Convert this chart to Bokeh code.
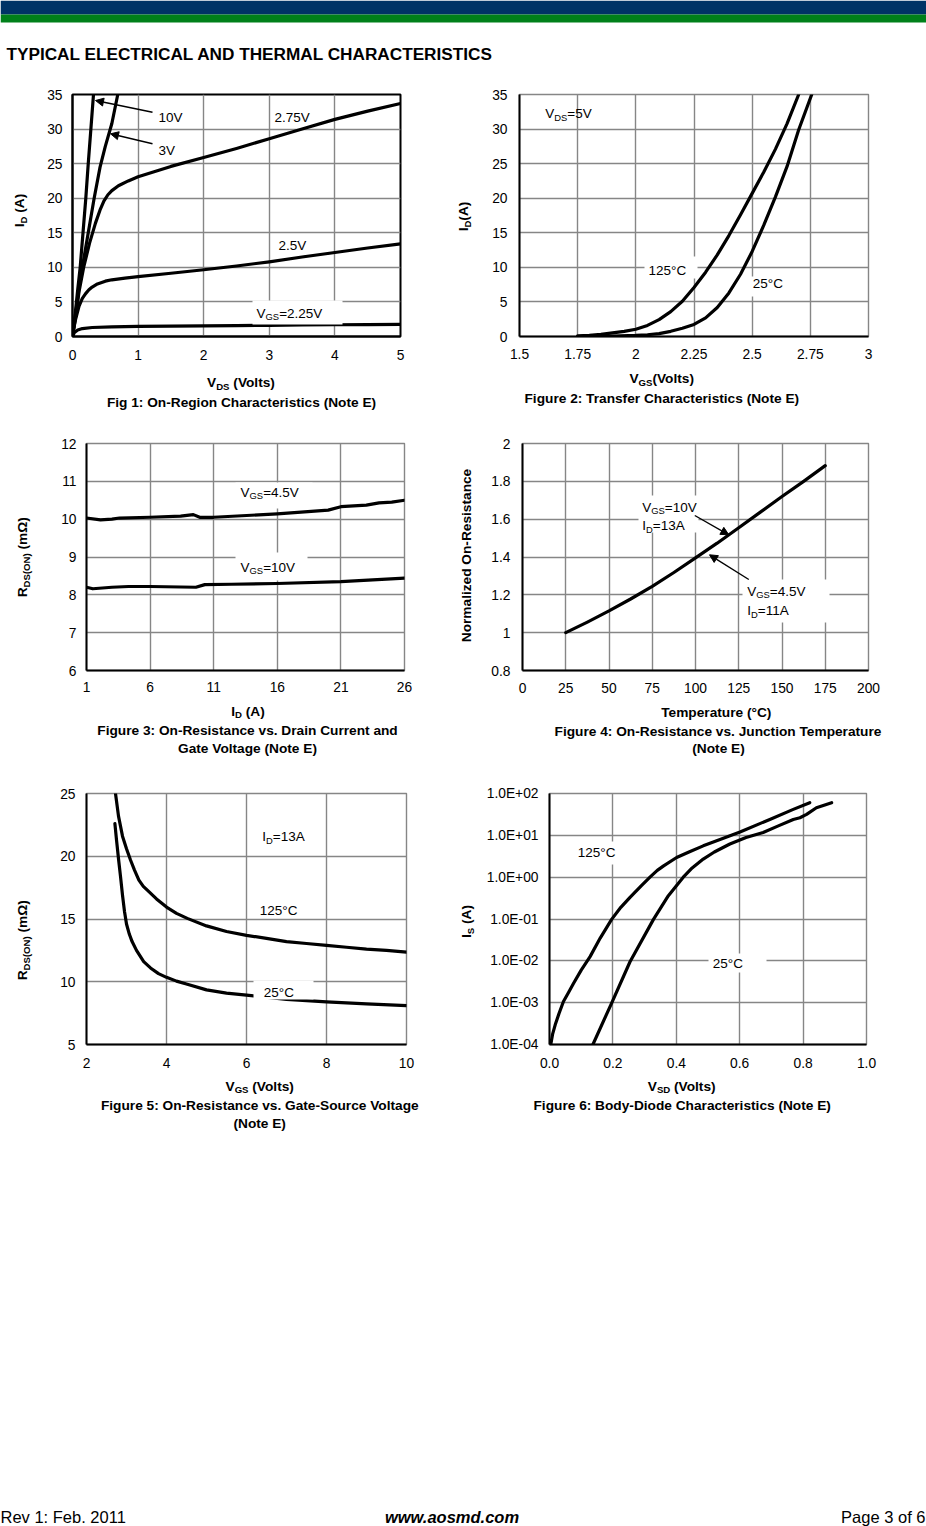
from math import pi, log10
from bokeh.plotting import figure
from bokeh.models import FixedTicker, Label, Arrow, NormalHead, BoxAnnotation, Range1d
from bokeh.layouts import column, row
from bokeh.embed import file_html
from bokeh.resources import INLINE

FONT = "Liberation Sans"
GRID = "#868686"

# ---------------- data ----------------
# Fig 1: On-region characteristics
f1_x_ticks = [0, 1, 2, 3, 4, 5]
f1_x_labels = ["0", "1", "2", "3", "4", "5"]
f1_y_ticks = [0, 5, 10, 15, 20, 25, 30, 35]
f1_y_labels = ["0", "5", "10", "15", "20", "25", "30", "35"]
f1_vds_10v = [0, 0.04, 0.08, 0.117, 0.16, 0.203, 0.24, 0.28, 0.32]
f1_id_10v = [0, 3.2, 6.8, 10, 15, 20, 25, 30, 35]
f1_vds_3v = [0, 0.05, 0.1, 0.15, 0.24, 0.33, 0.42, 0.5, 0.6, 0.69]
f1_id_3v = [0, 3.5, 7, 10, 15, 20, 24.5, 27.5, 30.8, 35]
f1_vds_275 = [0, 0.05, 0.1, 0.17, 0.26, 0.35, 0.42, 0.48, 0.54, 0.6, 0.7, 0.85, 1, 1.5, 2, 2.5, 3, 3.5, 4, 4.5, 5]
f1_id_275 = [0, 3, 6.5, 10, 13.5, 16.4, 18.3, 19.6, 20.5, 21.1, 21.8, 22.5, 23.1, 24.6, 25.9, 27.2, 28.6, 30, 31.4, 32.6, 33.7]
f1_vds_25 = [0, 0.02, 0.05, 0.1, 0.15, 0.2, 0.25, 0.3, 0.38, 0.5, 0.6, 0.8, 1, 1.5, 2, 2.5, 3, 3.5, 4, 4.5, 5]
f1_id_25 = [0, 1.2, 2.6, 4.4, 5.5, 6.2, 6.75, 7.15, 7.6, 8.0, 8.2, 8.45, 8.65, 9.15, 9.65, 10.2, 10.8, 11.5, 12.15, 12.8, 13.4]
f1_vds_225 = [0, 0.03, 0.08, 0.15, 0.3, 0.6, 1, 1.5, 2, 2.5, 3, 3.5, 4, 4.5, 5]
f1_id_225 = [0, 0.6, 0.95, 1.15, 1.3, 1.38, 1.45, 1.5, 1.55, 1.58, 1.62, 1.66, 1.7, 1.72, 1.75]

# Fig 2: Transfer characteristics
f2_x_ticks = [1.5, 1.75, 2.0, 2.25, 2.5, 2.75, 3.0]
f2_x_labels = ["1.5", "1.75", "2", "2.25", "2.5", "2.75", "3"]
f2_y_ticks = [0, 5, 10, 15, 20, 25, 30, 35]
f2_y_labels = ["0", "5", "10", "15", "20", "25", "30", "35"]
f2_vgs_125 = [1.75, 1.8, 1.85, 1.9, 1.95, 2.0, 2.05, 2.1, 2.15, 2.2, 2.25, 2.3, 2.35, 2.4, 2.45,
              2.5, 2.55, 2.6, 2.65, 2.7]
f2_id_125 = [0.08, 0.18, 0.32, 0.52, 0.75, 1.05, 1.6, 2.45, 3.6, 5.1, 7.1, 9.3, 11.8, 14.6, 17.6,
             20.7, 23.8, 27.1, 30.8, 35.0]
f2_vgs_25 = [1.75, 1.9, 2.0, 2.05, 2.1, 2.15, 2.2, 2.25, 2.3, 2.35, 2.4, 2.45, 2.5, 2.55, 2.6, 2.65,
             2.7, 2.756]
f2_id_25 = [0.0, 0.05, 0.15, 0.25, 0.42, 0.75, 1.2, 1.75, 2.7, 4.2, 6.3, 9.0, 12.3, 16.1, 20.2, 24.6,
            29.9, 35.0]

# Fig 3: On-resistance vs drain current
f3_x_ticks = [1, 6, 11, 16, 21, 26]
f3_x_labels = ["1", "6", "11", "16", "21", "26"]
f3_y_ticks = [6, 7, 8, 9, 10, 11, 12]
f3_y_labels = ["6", "7", "8", "9", "10", "11", "12"]
f3_id_45 = [1, 2.1, 3, 3.6, 6, 8.4, 9.4, 9.9, 11, 16, 20, 21, 23, 24, 25, 26]
f3_r_45 = [10.03, 9.98, 10.0, 10.03, 10.05, 10.08, 10.12, 10.05, 10.05, 10.14, 10.24, 10.33, 10.37,
           10.43, 10.45, 10.5]
f3_id_10 = [1, 1.5, 3, 4.3, 6, 9.6, 10.3, 12.4, 16, 21, 26]
f3_r_10 = [8.2, 8.16, 8.2, 8.22, 8.22, 8.2, 8.27, 8.28, 8.3, 8.35, 8.44]

# Fig 4: Normalized on-resistance vs temperature
f4_x_ticks = [0, 25, 50, 75, 100, 125, 150, 175, 200]
f4_x_labels = ["0", "25", "50", "75", "100", "125", "150", "175", "200"]
f4_y_ticks = [0.8, 1.0, 1.2, 1.4, 1.6, 1.8, 2.0]
f4_y_labels = ["0.8", "1", "1.2", "1.4", "1.6", "1.8", "2"]
f4_temp = [25, 37.5, 50, 62.5, 75, 87.5, 100, 112.5, 125, 137.5, 150, 162.5, 175]
f4_rnorm = [1.0, 1.056, 1.115, 1.178, 1.245, 1.318, 1.395, 1.473, 1.555, 1.637, 1.72, 1.80, 1.883]

# Fig 5: On-resistance vs gate-source voltage
f5_x_ticks = [2, 4, 6, 8, 10]
f5_x_labels = ["2", "4", "6", "8", "10"]
f5_y_ticks = [5, 10, 15, 20, 25]
f5_y_labels = ["5", "10", "15", "20", "25"]
f5_vgs_125 = [2.725, 2.8, 2.9, 3.0, 3.1, 3.2, 3.31, 3.42, 3.52, 3.75, 4.0, 4.25, 4.52, 5.0, 5.5, 6.0,
              6.5, 7.0, 7.5, 8.0, 8.5, 9.0, 9.5, 10.0]
f5_r_125 = [25.0, 23.2, 21.6, 20.6, 19.7, 18.9, 18.1, 17.6, 17.3, 16.6, 15.95, 15.45, 15.05, 14.45,
            14.0, 13.7, 13.45, 13.2, 13.05, 12.9, 12.75, 12.6, 12.5, 12.36]
f5_vgs_25 = [2.71, 2.75, 2.8, 2.85, 2.9, 2.95, 3.0, 3.07, 3.14, 3.25, 3.43, 3.6, 3.8, 4.0, 4.25, 4.52,
             5.0, 5.5, 6.0, 7.0, 8.0, 9.0, 10.0]
f5_r_25 = [22.6, 21.3, 19.8, 18.4, 16.9, 15.6, 14.6, 13.8, 13.2, 12.5, 11.6, 11.1, 10.65, 10.35,
           10.05, 9.8, 9.35, 9.1, 8.93, 8.6, 8.4, 8.24, 8.1]

# Fig 6: Body-diode characteristics
f6_x_ticks = [0.0, 0.2, 0.4, 0.6, 0.8, 1.0]
f6_x_labels = ["0.0", "0.2", "0.4", "0.6", "0.8", "1.0"]
f6_y_ticks = [1e-4, 1e-3, 1e-2, 1e-1, 1e0, 1e1, 1e2]
f6_y_labels = ["1.0E-04", "1.0E-03", "1.0E-02", "1.0E-01", "1.0E+00", "1.0E+01", "1.0E+02"]
f6_vsd_125 = [0.004, 0.01, 0.018, 0.03, 0.044, 0.06, 0.076, 0.1, 0.128, 0.16, 0.196, 0.225, 0.254,
              0.29, 0.317, 0.34, 0.36, 0.401, 0.44, 0.485, 0.54, 0.601, 0.695, 0.769, 0.821]
f6_is_125 = [1.0e-4, 1.8e-4, 2.95e-4, 5.5e-4, 1.07e-3, 1.75e-3, 2.9e-3, 6.0e-3, 1.26e-2, 3.5e-2,
             9.8e-2, 0.19, 0.33, 0.63, 1.0, 1.45, 1.86, 2.95, 4.0, 5.6, 8.1, 12.0, 24.0, 41.7, 60.3]
f6_vsd_25 = [0.137, 0.196, 0.254, 0.328, 0.375, 0.422, 0.45, 0.485, 0.52, 0.569, 0.62, 0.674, 0.72,
             0.769, 0.79, 0.811, 0.842, 0.89]
f6_is_25 = [1.0e-4, 9.8e-4, 9.5e-3, 9.8e-2, 0.36, 1.0, 1.66, 2.7, 4.0, 6.2, 8.9, 11.7, 16.6, 24.0,
            26.3, 31.6, 45.7, 60.3]

# ---------------- helpers ----------------
W_REG = {' ': 278, '(': 333, ')': 333, '+': 584, '-': 333, '.': 278, ':': 278, '=': 584,
         '°': 400, 'Ω': 768, 'A': 667, 'C': 722, 'D': 722, 'E': 667, 'G': 778, 'I': 278,
         'N': 722, 'O': 778, 'R': 722, 'S': 667, 'V': 667, 'm': 833, 'o': 556, 'l': 222,
         't': 278, 's': 500}
W_BOLD = {' ': 278, '(': 333, ')': 333, '+': 584, '-': 333, '.': 278, ':': 333, '=': 584,
          '°': 400, 'Ω': 768, 'A': 722, 'C': 722, 'D': 722, 'E': 667, 'G': 778, 'I': 278,
          'N': 722, 'O': 778, 'R': 722, 'S': 667, 'V': 667, 'm': 889, 'o': 611, 'l': 278,
          't': 333, 's': 556}


def gx(g, px):
    return g["x0"] + (px - g["L"]) / (g["R"] - g["L"]) * (g["x1"] - g["x0"])


def gy(g, py):
    f = (g["B"] - py) / (g["B"] - g["T"])
    if g.get("log"):
        return 10 ** (log10(g["y0"]) + f * (log10(g["y1"]) - log10(g["y0"])))
    return g["y0"] + f * (g["y1"] - g["y0"])


def lab(p, g, px, py, text, size, style="normal", align="left", angle=0.0):
    p.add_layout(Label(x=px - g["L"], y=g["B"] - py, x_units="screen", y_units="screen", text=text,
                       text_font=FONT, text_font_size=f"{size}px", text_font_style=style,
                       text_align=align, text_baseline="middle", angle=angle, text_color="black"))


def rich(p, g, cx, cy, parts, size, bold=False, align="center", vertical=False, sub=0.7):
    """Text with subscripts, laid out piece by piece (leading spaces become an advance)."""
    table = W_BOLD if bold else W_REG
    ws = [sum(table.get(c, 556) for c in t) * size * (sub if s else 1) / 1000 for t, s in parts]
    total = sum(ws)
    acc = -total / 2 if align == "center" else 0
    style = "bold" if bold else "normal"
    for (t, s), w in zip(parts, ws):
        fs = round(size * (sub if s else 1), 1)
        n_lead = len(t) - len(t.lstrip(" "))
        lead = n_lead * table[' '] * fs / 1000
        txt = t.lstrip(" ")
        drop = 0.26 * size if s else 0
        pos = acc + lead
        if vertical:
            lab(p, g, cx + drop, cy - pos, txt, fs, style, "left", pi / 2)
        else:
            lab(p, g, cx + pos, cy + drop, txt, fs, style, "left")
        acc += w


def wbox(p, g, x0, x1, y0, y1):
    p.add_layout(BoxAnnotation(left=gx(g, x0), right=gx(g, x1), top=gy(g, y0), bottom=gy(g, y1),
                               fill_color="white", fill_alpha=1.0, line_alpha=0.0))


def arrow(p, g, sx, sy, ex, ey):
    p.add_layout(Arrow(end=NormalHead(size=8, fill_color="black", line_color="black", line_width=1),
                       x_start=gx(g, sx), y_start=gy(g, sy), x_end=gx(g, ex), y_end=gy(g, ey),
                       line_color="black", line_width=1.4))


def chart(g, xticks, xlabels, yticks, ylabels, xstand, ystand, black_box=False):
    p = figure(width=g["W"], height=g["H"],
               x_range=Range1d(g["x0"], g["x1"]), y_range=Range1d(g["y0"], g["y1"]),
               y_axis_type="log" if g.get("log") else "linear",
               output_backend="svg", toolbar_location=None,
               min_border_left=g["L"] - g["ox"], min_border_right=g["ox"] + g["W"] - g["R"],
               min_border_top=g["T"] - g["oy"], min_border_bottom=g["oy"] + g["H"] - g["B"])
    p.background_fill_color = "white"
    p.border_fill_color = "white"
    for ax, ticks, labels, st in ((p.xaxis[0], xticks, xlabels, xstand),
                                  (p.yaxis[0], yticks, ylabels, ystand)):
        ax.ticker = FixedTicker(ticks=ticks)
        ax.major_label_overrides = dict(zip(ticks, labels))
        ax.major_tick_in = 0
        ax.major_tick_out = 0
        ax.minor_tick_in = 0
        ax.minor_tick_out = 0
        ax.axis_line_color = "black"
        ax.axis_line_width = 2
        ax.major_label_text_font = FONT
        ax.major_label_text_font_size = "13.8px"
        ax.major_label_text_color = "black"
        ax.major_label_standoff = st
    p.xgrid.ticker = FixedTicker(ticks=xticks)
    p.ygrid.ticker = FixedTicker(ticks=yticks)
    p.grid.grid_line_color = GRID
    p.grid.grid_line_width = 1.4
    p.outline_line_color = "black" if black_box else GRID
    p.outline_line_width = 2 if black_box else 1.4
    p.outline_line_alpha = 1.0
    return p


def curve(p, xs, ys):
    p.line(xs, ys, line_color="black", line_width=3.2, line_join="round", line_cap="round")


def plain(ox, oy, W, H, T=None, B=None):
    """A figure without axes, used only to hold text; its frame runs from T to B."""
    T = oy if T is None else T
    B = oy + H if B is None else B
    p = figure(width=W, height=H, x_range=Range1d(0, 1), y_range=Range1d(0, 1), output_backend="svg",
               toolbar_location=None, x_axis_location=None, y_axis_location=None,
               min_border_left=0, min_border_right=0, min_border_top=T - oy,
               min_border_bottom=oy + H - B, outline_line_color=None,
               background_fill_color="white", border_fill_color="white")
    p.grid.visible = False
    g = dict(ox=ox, oy=oy, W=W, H=H, L=ox, B=B, T=T, R=ox + W, x0=0, x1=1, y0=0, y1=1)
    return p, g


SPLIT = 452

# ---------------- header ----------------
head, gh = plain(0, 0, 926, 66)
head.add_layout(BoxAnnotation(top=gy(gh, 0), bottom=gy(gh, 14), fill_color="#003366",
                              fill_alpha=1.0, line_alpha=0.0))
head.add_layout(BoxAnnotation(top=gy(gh, 14), bottom=gy(gh, 22), fill_color="#00801A",
                              fill_alpha=1.0, line_alpha=0.0))
lab(head, gh, 6, 53, "TYPICAL ELECTRICAL AND THERMAL CHARACTERISTICS", 17.2, "bold")

# ---------------- row 1 ----------------
R1_OY, R1_H, R1_T, R1_B = 66, 302, 94, 336
G1 = dict(ox=32, oy=R1_OY, W=SPLIT - 32, H=R1_H, L=72, T=R1_T, R=400, B=R1_B, x0=0, x1=5, y0=0, y1=35)
p1 = chart(G1, f1_x_ticks, f1_x_labels, f1_y_ticks, f1_y_labels, 13, 10, black_box=True)
for xs, ys in ((f1_vds_10v, f1_id_10v), (f1_vds_3v, f1_id_3v), (f1_vds_275, f1_id_275),
               (f1_vds_25, f1_id_25), (f1_vds_225, f1_id_225)):
    curve(p1, xs, ys)
lab(p1, G1, 158, 117, "10V", 13.5)
lab(p1, G1, 274, 117, "2.75V", 13.5)
lab(p1, G1, 158, 150, "3V", 13.5)
lab(p1, G1, 278, 245, "2.5V", 13.5)
wbox(p1, G1, 252, 342, 300, 324)
rich(p1, G1, 256, 312.7, [("V", 0), ("GS", 1), ("=2.25V", 0)], 13.5, align="left")
arrow(p1, G1, 152, 111.7, 95, 100)
arrow(p1, G1, 152, 143.3, 110, 133.3)
yt1, gyt1 = plain(0, R1_OY, 32, R1_H, R1_T, R1_B)
rich(yt1, gyt1, 19, 210, [("I", 0), ("D", 1), (" (A)", 0)], 13.7, bold=True, vertical=True)

G2 = dict(ox=474, oy=R1_OY, W=926 - 474, H=R1_H, L=519, T=R1_T, R=868, B=R1_B, x0=1.5, x1=3.0, y0=0, y1=35)
p2 = chart(G2, f2_x_ticks, f2_x_labels, f2_y_ticks, f2_y_labels, 12, 12)
curve(p2, f2_vgs_125, f2_id_125)
curve(p2, f2_vgs_25, f2_id_25)
rich(p2, G2, 544.7, 113.3, [("V", 0), ("DS", 1), ("=5V", 0)], 13.5, align="left")
wbox(p2, G2, 644, 697, 256, 278)
lab(p2, G2, 648, 270, "125°C", 13.5)
wbox(p2, G2, 748, 790, 276, 296)
lab(p2, G2, 752.3, 283.3, "25°C", 13.5)
yt2, gyt2 = plain(SPLIT, R1_OY, 474 - SPLIT, R1_H, R1_T, R1_B)
rich(yt2, gyt2, 463, 216, [("I", 0), ("D", 1), ("(A)", 0)], 13.7, bold=True, vertical=True)

b1, gb1 = plain(0, 368, SPLIT, 47)
rich(b1, gb1, 241, 382, [("V", 0), ("DS", 1), (" (Volts)", 0)], 13.7, bold=True)
lab(b1, gb1, 241, 402, "Fig 1: On-Region Characteristics (Note E)", 13.7, "bold", "center")
b2, gb2 = plain(SPLIT, 368, 926 - SPLIT, 47)
rich(b2, gb2, 661.7, 378.3, [("V", 0), ("GS", 1), ("(Volts)", 0)], 13.7, bold=True)
lab(b2, gb2, 661.3, 398.3, "Figure 2: Transfer Characteristics (Note E)", 13.7, "bold", "center")

# ---------------- row 2 ----------------
R2_OY, R2_H, R2_T, R2_B = 415, 285, 443, 670
G3 = dict(ox=36, oy=R2_OY, W=SPLIT - 36, H=R2_H, L=86, T=R2_T, R=404, B=R2_B, x0=1, x1=26, y0=6, y1=12)
p3 = chart(G3, f3_x_ticks, f3_x_labels, f3_y_ticks, f3_y_labels, 11, 10)
curve(p3, f3_id_45, f3_r_45)
curve(p3, f3_id_10, f3_r_10)
wbox(p3, G3, 235, 312, 482, 508)
rich(p3, G3, 240, 491.7, [("V", 0), ("GS", 1), ("=4.5V", 0)], 13.5, align="left")
wbox(p3, G3, 235, 307, 552, 580)
rich(p3, G3, 240, 566.7, [("V", 0), ("GS", 1), ("=10V", 0)], 13.5, align="left")
yt3, gyt3 = plain(0, R2_OY, 36, R2_H, R2_T, R2_B)
rich(yt3, gyt3, 22, 557, [("R", 0), ("DS(ON)", 1), (" (mΩ)", 0)], 13.7, bold=True, vertical=True)

G4 = dict(ox=478, oy=R2_OY, W=926 - 478, H=R2_H, L=522, T=R2_T, R=868, B=R2_B, x0=0, x1=200, y0=0.8, y1=2.0)
p4 = chart(G4, f4_x_ticks, f4_x_labels, f4_y_ticks, f4_y_labels, 12, 12)
curve(p4, f4_temp, f4_rnorm)
wbox(p4, G4, 638, 698, 495, 532)
rich(p4, G4, 641.7, 506.7, [("V", 0), ("GS", 1), ("=10V", 0)], 13.5, align="left")
rich(p4, G4, 641.7, 525, [("I", 0), ("D", 1), ("=13A", 0)], 13.5, align="left")
wbox(p4, G4, 742, 829, 579, 622)
rich(p4, G4, 746.7, 590.7, [("V", 0), ("GS", 1), ("=4.5V", 0)], 13.5, align="left")
rich(p4, G4, 746.7, 610, [("I", 0), ("D", 1), ("=11A", 0)], 13.5, align="left")
arrow(p4, G4, 694.3, 515, 728.3, 534.3)
arrow(p4, G4, 748.3, 579, 709, 554.3)
yt4, gyt4 = plain(SPLIT, R2_OY, 478 - SPLIT, R2_H, R2_T, R2_B)
lab(yt4, gyt4, 466, 555, "Normalized On-Resistance", 13.7, "bold", "center", pi / 2)

b3, gb3 = plain(0, 700, SPLIT, 65)
rich(b3, gb3, 247.5, 710.7, [("I", 0), ("D", 1), (" (A)", 0)], 13.7, bold=True)
lab(b3, gb3, 247, 730, "Figure 3: On-Resistance vs. Drain Current and", 13.7, "bold", "center")
lab(b3, gb3, 247, 748, "Gate Voltage (Note E)", 13.7, "bold", "center")
b4, gb4 = plain(SPLIT, 700, 926 - SPLIT, 65)
lab(b4, gb4, 715.8, 712.3, "Temperature (°C)", 13.7, "bold", "center")
lab(b4, gb4, 717.5, 730.7, "Figure 4: On-Resistance vs. Junction Temperature", 13.7, "bold", "center")
lab(b4, gb4, 718, 748.3, "(Note E)", 13.7, "bold", "center")

# ---------------- row 3 ----------------
R3_OY, R3_H, R3_T, R3_B = 765, 310, 793, 1044
G5 = dict(ox=36, oy=R3_OY, W=SPLIT - 36, H=R3_H, L=86, T=R3_T, R=406, B=R3_B, x0=2, x1=10, y0=5, y1=25)
p5 = chart(G5, f5_x_ticks, f5_x_labels, f5_y_ticks, f5_y_labels, 13, 11)
curve(p5, f5_vgs_125, f5_r_125)
curve(p5, f5_vgs_25, f5_r_25)
rich(p5, G5, 261.7, 836, [("I", 0), ("D", 1), ("=13A", 0)], 13.5, align="left")
lab(p5, G5, 259.3, 910, "125°C", 13.5)
wbox(p5, G5, 253, 313, 980, 999)
lab(p5, G5, 263.3, 991.7, "25°C", 13.5)
yt5, gyt5 = plain(0, R3_OY, 36, R3_H, R3_T, R3_B)
rich(yt5, gyt5, 22, 940, [("R", 0), ("DS(ON)", 1), (" (mΩ)", 0)], 13.7, bold=True, vertical=True)

G6 = dict(ox=478, oy=R3_OY, W=926 - 478, H=R3_H, L=549, T=R3_T, R=866, B=R3_B, x0=0, x1=1.0,
          y0=1e-4, y1=1e2, log=True)
p6 = chart(G6, f6_x_ticks, f6_x_labels, f6_y_ticks, f6_y_labels, 13, 11)
curve(p6, f6_vsd_125, f6_is_125)
curve(p6, f6_vsd_25, f6_is_25)
wbox(p6, G6, 574, 616, 841, 864)
lab(p6, G6, 577.3, 852.3, "125°C", 13.5)
wbox(p6, G6, 708, 766, 953, 972)
lab(p6, G6, 712.3, 962.7, "25°C", 13.5)
yt6, gyt6 = plain(SPLIT, R3_OY, 478 - SPLIT, R3_H, R3_T, R3_B)
rich(yt6, gyt6, 466, 921, [("I", 0), ("S", 1), (" (A)", 0)], 13.7, bold=True, vertical=True)

b5, gb5 = plain(0, 1075, SPLIT, 65)
rich(b5, gb5, 259.7, 1085.7, [("V", 0), ("GS", 1), (" (Volts)", 0)], 13.7, bold=True)
lab(b5, gb5, 259.3, 1105, "Figure 5: On-Resistance vs. Gate-Source Voltage", 13.7, "bold", "center")
lab(b5, gb5, 259.2, 1123.3, "(Note E)", 13.7, "bold", "center")
b6, gb6 = plain(SPLIT, 1075, 926 - SPLIT, 65)
rich(b6, gb6, 681.7, 1085.7, [("V", 0), ("SD", 1), (" (Volts)", 0)], 13.7, bold=True)
lab(b6, gb6, 681.7, 1105, "Figure 6: Body-Diode Characteristics (Note E)", 13.7, "bold", "center")

# ---------------- footer ----------------
foot, gf = plain(0, 1140, 926, 386)
lab(foot, gf, 0, 1516, "Rev 1: Feb. 2011", 16.5)
lab(foot, gf, 451.5, 1516, "www.aosmd.com", 16.5, "bold italic", "center")
lab(foot, gf, 925, 1516, "Page 3 of 6", 16.5, "normal", "right")

layout = column(head,
                row(yt1, p1, yt2, p2, spacing=0), row(b1, b2, spacing=0),
                row(yt3, p3, yt4, p4, spacing=0), row(b3, b4, spacing=0),
                row(yt5, p5, yt6, p6, spacing=0), row(b5, b6, spacing=0),
                foot, spacing=0)
layout.styles = {"position": "absolute", "left": "0px", "top": "0px"}

open("out.html", "w").write(file_html(layout, INLINE))
